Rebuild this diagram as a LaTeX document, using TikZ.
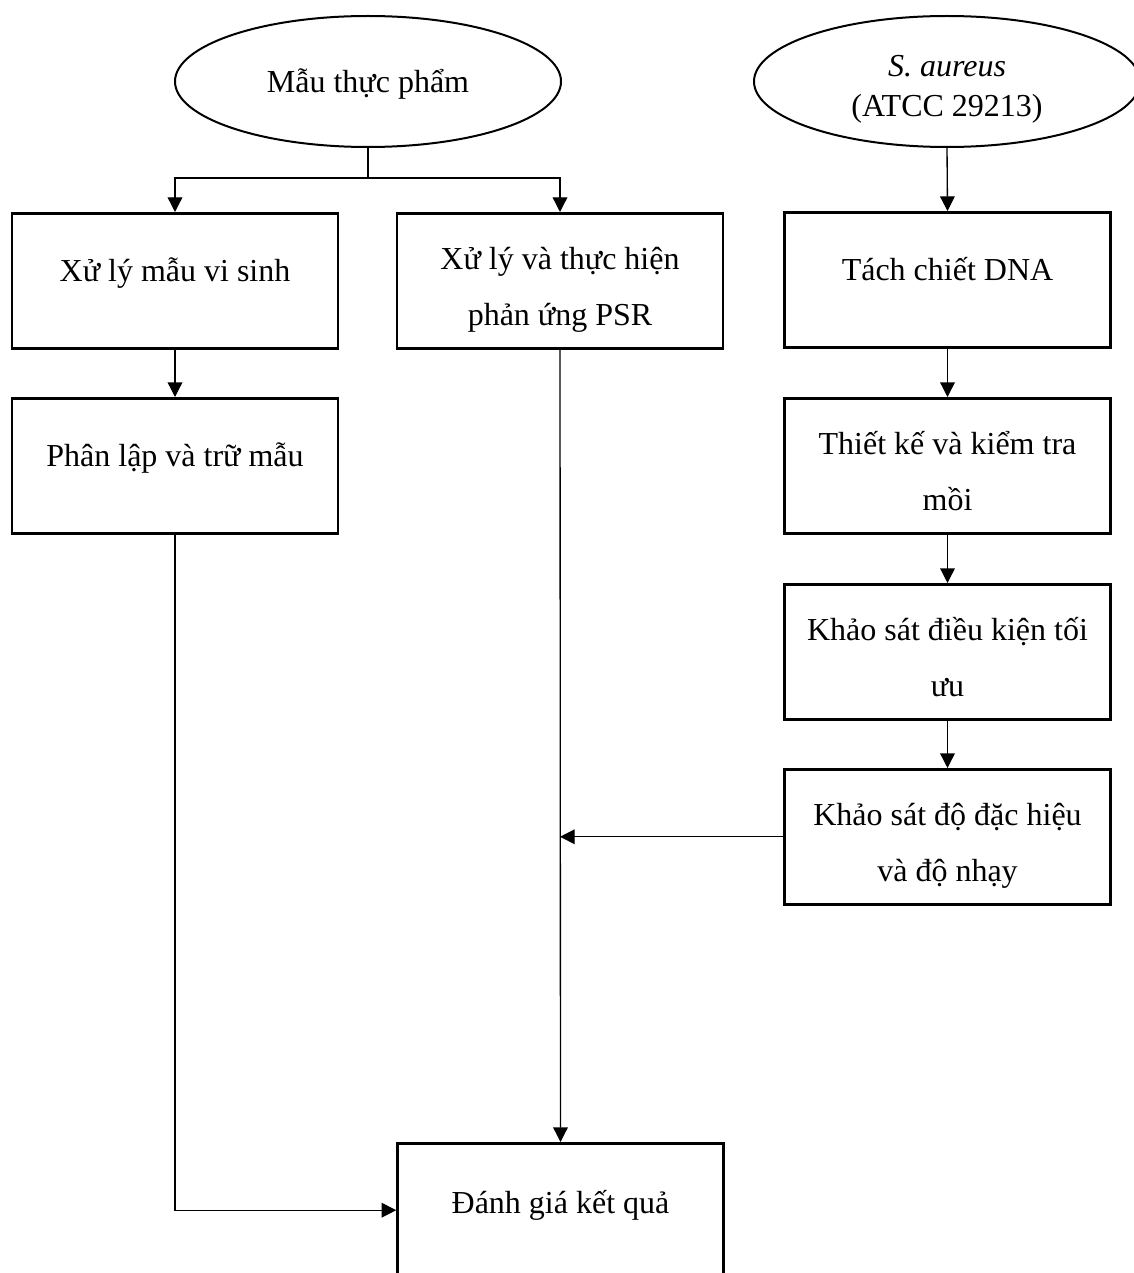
\documentclass[tikz,border=0pt]{standalone}
\usepackage{fontspec}
\setmainfont{Liberation Serif}
\usetikzlibrary{shapes.geometric,arrows.meta,calc}
\begin{document}
\begin{tikzpicture}[x=0.75pt,y=-0.75pt,
  boxbase/.style={draw,line width=1.9pt,rectangle,anchor=north,minimum width=244.5pt,minimum height=0pt,inner sep=0pt,align=center,font=\fontsize{24pt}{42pt}\selectfont},
  boxone/.style={boxbase,text height=51pt,text depth=50.25pt},
  boxtwo/.style={boxbase,text height=84pt,text depth=17.25pt},
  oval/.style={draw,line width=1.5pt,ellipse,minimum width=289.5pt,minimum height=98.25pt,align=center,inner sep=0pt,font=\fontsize{24pt}{30pt}\selectfont},
  arr/.style={line width=1pt,-{Triangle[length=11pt,width=11pt]}},
  ln/.style={line width=1pt}]
\useasboundingbox (0,0) rectangle (1133,1273);
\fill[white] (0,0) rectangle (1133,1273);
\node[oval,text height=22pt,text depth=6pt] (e1) at (368,81.5) {Mẫu thực phẩm};
\node[oval,text height=58pt,text depth=6pt] (e2) at (947,81.5) {\textit{S. aureus}\\(ATCC 29213)};
\node[boxone] (A) at (175,212) {Xử lý mẫu vi sinh};
\node[boxone] (B) at (175,397) {Phân lập và trữ mẫu};
\node[boxtwo] (C) at (560,212) {Xử lý và thực hiện\\phản ứng PSR};
\node[boxone] (D) at (947.5,211) {Tách chiết DNA};
\node[boxtwo] (E) at (947.5,397) {Thiết kế và kiểm tra\\mồi};
\node[boxtwo] (F) at (947.5,583) {Khảo sát điều kiện tối\\ưu};
\node[boxtwo] (G) at (947.5,768) {Khảo sát độ đặc hiệu\\và độ nhạy};
\node[boxbase,text height=52.5pt,text depth=75pt] (H) at (560.5,1142) {Đánh giá kết quả};
\coordinate (j1) at (368,178);
\draw[ln] (e1.south) -- (j1);
\draw[arr] (j1) -| (A.north);
\draw[arr] (j1) -| (C.north);
\draw[arr] (e2.south) -- (D.north);
\draw[arr] (A.south) -- (B.north);
\draw[arr] (D.south) -- (E.north);
\draw[arr] (E.south) -- (F.north);
\draw[arr] (F.south) -- (G.north);
\draw[arr] (C.south) -- (H.north);
\draw[arr] (G.west) -- (C.south |- G.west);
\draw[arr] (B.south) |- (H.mid west);
\end{tikzpicture}
\end{document}
